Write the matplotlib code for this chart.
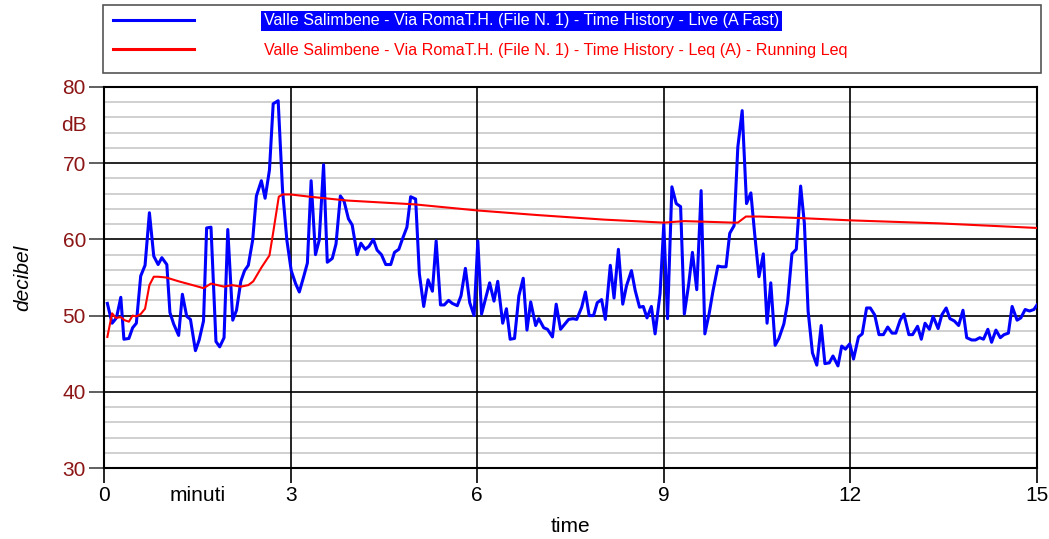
import numpy as np
import matplotlib.pyplot as plt
from matplotlib.ticker import MultipleLocator
from matplotlib.patches import Rectangle

# Live (A Fast) - minutes / dB
live_t = [0.054, 0.13, 0.20, 0.27, 0.32, 0.40, 0.46, 0.52, 0.59, 0.66, 0.73, 0.80, 0.87, 0.93, 1.01,
          1.06, 1.12, 1.20, 1.26, 1.33, 1.39, 1.47, 1.53, 1.60, 1.65, 1.72, 1.80, 1.86, 1.93, 1.99,
          2.07, 2.13, 2.20, 2.26, 2.32, 2.39, 2.45, 2.53, 2.59, 2.66, 2.72, 2.80, 2.87, 2.94, 3.01,
          3.08, 3.14, 3.21, 3.27, 3.33, 3.40, 3.46, 3.53, 3.59, 3.67, 3.73, 3.80, 3.86, 3.93, 3.99,
          4.07, 4.13, 4.20, 4.26, 4.33, 4.39, 4.46, 4.53, 4.61, 4.67, 4.74, 4.80, 4.87, 4.93, 5.01,
          5.07, 5.14, 5.21, 5.28, 5.34, 5.41, 5.47, 5.54, 5.60, 5.68, 5.74, 5.81, 5.88, 5.95, 6.01,
          6.07, 6.14, 6.20, 6.27, 6.33, 6.41, 6.47, 6.53, 6.60, 6.67, 6.74, 6.80, 6.86, 6.94, 6.99,
          7.07, 7.13, 7.21, 7.27, 7.34, 7.40, 7.47, 7.54, 7.60, 7.68, 7.74, 7.80, 7.87, 7.93, 8.00,
          8.06, 8.14, 8.20, 8.27, 8.34, 8.40, 8.48, 8.54, 8.61, 8.67, 8.73, 8.80, 8.86, 8.94, 9.00,
          9.06, 9.13, 9.20, 9.27, 9.33, 9.40, 9.46, 9.53, 9.60, 9.66, 9.73, 9.79, 9.87, 9.93, 10.00,
          10.06, 10.13, 10.19, 10.26, 10.33, 10.40, 10.46, 10.53, 10.60, 10.66, 10.72, 10.79, 10.85, 10.93, 10.99,
          11.06, 11.13, 11.20, 11.26, 11.32, 11.39, 11.46, 11.53, 11.59, 11.66, 11.72, 11.80, 11.86, 11.92, 11.99,
          12.05, 12.13, 12.19, 12.26, 12.32, 12.39, 12.46, 12.53, 12.60, 12.67, 12.73, 12.80, 12.86, 12.94, 13.00,
          13.08, 13.14, 13.20, 13.27, 13.33, 13.41, 13.47, 13.54, 13.60, 13.67, 13.74, 13.81, 13.87, 13.95, 14.01,
          14.08, 14.14, 14.21, 14.27, 14.34, 14.41, 14.47, 14.54, 14.60, 14.68, 14.74, 14.81, 14.88, 14.95, 15.00]
live_db = [51.6, 49.0, 49.7, 52.4, 46.9, 47.0, 48.4, 49.0, 55.2, 56.6, 63.5, 57.8, 56.7, 57.6, 56.7,
           50.4, 48.9, 47.4, 52.8, 49.9, 49.5, 45.4, 46.8, 49.3, 61.5, 61.6, 46.6, 45.9, 47.1, 61.3,
           49.4, 50.7, 54.5, 55.9, 56.6, 59.9, 65.7, 67.7, 65.4, 69.1, 77.8, 78.2, 66.5, 59.9, 55.9,
           54.2, 53.1, 55.1, 56.9, 67.7, 58.0, 59.9, 69.8, 57.0, 57.5, 59.4, 65.7, 65.0, 62.7, 61.9,
           58.0, 59.5, 58.7, 59.1, 60.0, 58.6, 58.0, 56.7, 56.7, 58.3, 58.7, 60.1, 61.6, 65.6, 65.3,
           55.5, 51.2, 54.7, 53.2, 59.8, 51.4, 51.4, 52.0, 51.6, 51.3, 52.6, 56.2, 51.7, 50.0, 59.8,
           50.2, 52.4, 54.3, 51.9, 54.5, 49.0, 50.9, 46.9, 47.0, 52.6, 54.9, 48.1, 51.8, 48.7, 49.6,
           48.4, 48.2, 47.2, 51.5, 48.2, 48.8, 49.5, 49.6, 49.5, 51.1, 53.1, 50.0, 50.0, 51.7, 52.1,
           49.5, 56.6, 52.3, 58.7, 51.5, 53.9, 55.9, 53.3, 51.1, 51.2, 49.7, 51.2, 47.6, 52.9, 62.0,
           49.6, 66.9, 64.7, 64.3, 50.2, 54.1, 58.3, 53.4, 66.4, 47.6, 50.3, 53.2, 56.5, 56.4, 56.4,
           60.8, 61.8, 72.1, 76.9, 64.7, 66.1, 60.8, 55.1, 58.1, 49.0, 54.3, 46.1, 47.0, 48.9, 51.7,
           58.1, 58.7, 67.0, 62.1, 50.6, 45.1, 43.5, 48.7, 43.7, 43.8, 44.7, 43.4, 46.0, 45.6, 46.3,
           44.3, 47.2, 47.6, 51.0, 51.0, 50.1, 47.5, 47.5, 48.5, 47.7, 47.7, 49.4, 50.2, 47.5, 47.5,
           48.6, 46.9, 49.0, 48.2, 49.9, 48.3, 50.1, 51.0, 49.6, 49.3, 48.7, 50.7, 47.1, 46.8, 46.8,
           47.1, 46.9, 48.2, 46.5, 48.1, 47.1, 47.5, 47.7, 51.2, 49.4, 49.7, 50.8, 50.6, 50.8, 51.4]

# Running Leq
leq_t = [0.054, 0.13, 0.19, 0.27, 0.33, 0.40, 0.46, 0.52, 0.59, 0.66, 0.73, 0.80, 0.87, 1.0, 1.2,
         1.47, 1.6, 1.72, 1.93, 2.06, 2.2, 2.32, 2.40, 2.53, 2.66, 2.72, 2.81, 2.87, 3.0, 3.31,
         3.91, 4.99, 6.0, 6.96, 8.03, 9.0, 9.33, 9.74, 10.11, 10.19, 10.32, 10.54, 11.19, 12.0, 13.44, 15.0]
leq_db = [47.2, 50.3, 49.7, 49.8, 49.4, 49.2, 50.0, 49.9, 50.2, 50.9, 54.0, 55.1, 55.1, 55.0, 54.5,
          53.9, 53.6, 54.2, 53.8, 54.0, 53.8, 54.0, 54.5, 56.3, 57.9, 60.9, 65.6, 65.9, 65.9, 65.6,
          65.1, 64.6, 63.8, 63.2, 62.6, 62.2, 62.4, 62.3, 62.2, 62.2, 63.0, 63.0, 62.8, 62.5, 62.1, 61.5]

label_live = "Valle Salimbene - Via RomaT.H. (File N. 1) - Time History - Live (A Fast)"
label_leq = "Valle Salimbene - Via RomaT.H. (File N. 1) - Time History - Leq (A) - Running Leq"

plt.rcParams['font.family'] = ['Liberation Sans', 'DejaVu Sans']
dark_red = '#8c1515'

fig = plt.figure(figsize=(10.49, 5.39), dpi=100)
ax = fig.add_axes([104/1049, 1 - 468/539, 933/1049, 381/539])

ax.plot(live_t, live_db, color='#0000ff', linewidth=2.2, label=label_live, zorder=3)
ax.plot(leq_t, leq_db, color='#ff0000', linewidth=1.5, label=label_leq, zorder=4)

ax.set_xlim(0, 15)
ax.set_ylim(30, 80)
ax.xaxis.set_major_locator(MultipleLocator(3))
ax.yaxis.set_major_locator(MultipleLocator(10))
ax.yaxis.set_minor_locator(MultipleLocator(2))
ax.grid(which='minor', axis='y', color='#c8c8c8', linewidth=1.2, zorder=0.5)
ax.grid(which='major', axis='y', color='black', linewidth=1.2)
# vertical grid drawn on top of the grey minor lines
ax.vlines(ax.get_xticks(), 30, 80, color='black', linewidth=1.2, zorder=1.5)
ax.set_axisbelow(True)
for s in ax.spines.values():
    s.set_linewidth(1.5)
ax.tick_params(axis='both', which='major', direction='out', length=11, width=1.2, labelsize=15, pad=2)
ax.tick_params(axis='y', which='major', labelcolor=dark_red, color='#444444')
ax.tick_params(axis='y', which='minor', length=0)

ax.text(-0.018, 75, 'dB', transform=ax.get_yaxis_transform(), ha='right', va='center',
        fontsize=15, color=dark_red)
ax.text(1.5, -0.072, 'minuti', transform=ax.get_xaxis_transform(), ha='center', va='center',
        fontsize=15)
ax.set_xlabel('time', fontsize=15)
ax.xaxis.set_label_coords(0.5, -0.128)
ax.set_ylabel('decibel', fontsize=15, style='italic')
ax.yaxis.set_label_coords(-0.0765, 0.5)

# legend box
fig.add_artist(Rectangle((103/1049, 1 - 73/539), 938/1049, 68/539, transform=fig.transFigure,
                         facecolor='white', edgecolor='#555555', linewidth=1.2, zorder=-1))
leg = ax.legend(loc='upper left', bbox_to_anchor=(98/1049, 1 + 1/539), bbox_transform=fig.transFigure,
                frameon=False, handlelength=5.03, handletextpad=4.35, labelspacing=0.87,
                prop={'family': ['Liberation Sans'], 'size': 11.6})
texts = leg.get_texts()
texts[0].set_color('white')
texts[0].set_bbox(dict(facecolor='#0000ff', edgecolor='none', pad=2))
texts[1].set_color('#ff0000')
for line in leg.get_lines():
    line.set_linewidth(2.2)

plt.savefig('out.png', dpi=100)
